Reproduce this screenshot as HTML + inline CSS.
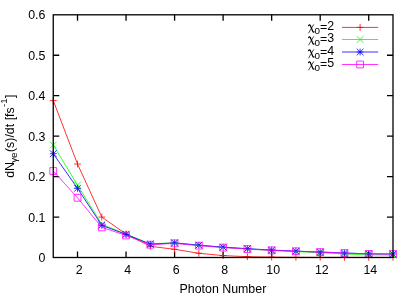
<!DOCTYPE html>
<html><head><meta charset="utf-8"><title>plot</title>
<style>
html,body{margin:0;padding:0;background:#fff;}
body{width:415px;height:297px;overflow:hidden;}
svg{display:block;}
text{font-family:"Liberation Sans",sans-serif;font-size:12.4px;fill:#000;}
</style></head><body>
<svg width="415" height="297" viewBox="0 0 415 297">
<rect x="0" y="0" width="415" height="297" fill="#fff"/>
<g style="will-change:transform">
<path d="M53.25 217.05h6.0M393.00 217.05h-6.0M53.25 176.60h6.0M393.00 176.60h-6.0M53.25 136.15h6.0M393.00 136.15h-6.0M53.25 95.70h6.0M393.00 95.70h-6.0M53.25 55.25h6.0M393.00 55.25h-6.0M77.52 257.50v-6.0M77.52 14.80v6.0M126.05 257.50v-6.0M126.05 14.80v6.0M174.59 257.50v-6.0M174.59 14.80v6.0M223.12 257.50v-6.0M223.12 14.80v6.0M271.66 257.50v-6.0M271.66 14.80v6.0M320.20 257.50v-6.0M320.20 14.80v6.0M368.73 257.50v-6.0M368.73 14.80v6.0" stroke="#000" stroke-width="1.3" fill="none"/>
<text x="45.4" y="262.10" text-anchor="end">0</text>
<text x="45.4" y="221.65" text-anchor="end">0.1</text>
<text x="45.4" y="181.20" text-anchor="end">0.2</text>
<text x="45.4" y="140.75" text-anchor="end">0.3</text>
<text x="45.4" y="100.30" text-anchor="end">0.4</text>
<text x="45.4" y="59.85" text-anchor="end">0.5</text>
<text x="45.4" y="19.40" text-anchor="end">0.6</text>
<text x="79.12" y="274.2" text-anchor="middle">2</text>
<text x="127.65" y="274.2" text-anchor="middle">4</text>
<text x="176.19" y="274.2" text-anchor="middle">6</text>
<text x="224.72" y="274.2" text-anchor="middle">8</text>
<text x="273.26" y="274.2" text-anchor="middle">10</text>
<text x="321.80" y="274.2" text-anchor="middle">12</text>
<text x="370.33" y="274.2" text-anchor="middle">14</text>
<text x="222.9" y="292.7" text-anchor="middle">Photon Number</text>
<text transform="translate(14 177.8) rotate(-90)">dN<tspan font-size="9.9px" dy="3" dx="-0.9">γe</tspan><tspan dy="-3" dx="0.4">(s)/dt [fs</tspan><tspan font-size="9.9px" dy="-6.7" dx="0.3">-1</tspan><tspan dy="6.7" dx="0.3">]</tspan></text>
<path d="M53.25 100.55L77.52 164.06L101.79 217.05L126.05 234.04L150.32 246.30L174.59 249.29L198.86 253.29L223.12 255.60L247.39 256.69L271.66 257.10L295.93 257.30L320.20 257.38L344.46 257.38L368.73 257.38L393.00 257.38" stroke="#ff0000" stroke-width="0.8" fill="none"/>
<path d="M49.85 100.55H56.65M53.25 97.15V103.95M74.12 164.06H80.92M77.52 160.66V167.46M98.39 217.05H105.19M101.79 213.65V220.45M122.65 234.04H129.45M126.05 230.64V237.44M146.92 246.30H153.72M150.32 242.90V249.70M171.19 249.29H177.99M174.59 245.89V252.69M195.46 253.29H202.26M198.86 249.89V256.69M219.72 255.60H226.53M223.12 252.20V259.00M243.99 256.69H250.79M247.39 253.29V260.09M268.26 257.10H275.06M271.66 253.70V260.50M292.53 257.30H299.33M295.93 253.90V260.70M316.80 257.38H323.60M320.20 253.98V260.78M341.06 257.38H347.86M344.46 253.98V260.78M365.33 257.38H372.13M368.73 253.98V260.78M389.60 257.38H396.40M393.00 253.98V260.78" stroke="#ff0000" stroke-width="0.8" fill="none"/>
<path d="M53.25 145.05L77.52 185.09L101.79 224.33L126.05 234.04L150.32 243.91L174.59 242.70L198.86 245.16L223.12 247.19L247.39 248.88L271.66 250.42L295.93 251.63L320.20 252.65L344.46 254.06L368.73 254.87L393.00 255.07" stroke="#00ff00" stroke-width="0.8" fill="none"/>
<path d="M49.85 141.65L56.65 148.45M49.85 148.45L56.65 141.65M74.12 181.69L80.92 188.49M74.12 188.49L80.92 181.69M98.39 220.93L105.19 227.73M98.39 227.73L105.19 220.93M122.65 230.64L129.45 237.44M122.65 237.44L129.45 230.64M146.92 240.51L153.72 247.31M146.92 247.31L153.72 240.51M171.19 239.30L177.99 246.10M171.19 246.10L177.99 239.30M195.46 241.76L202.26 248.56M195.46 248.56L202.26 241.76M219.72 243.79L226.53 250.59M219.72 250.59L226.53 243.79M243.99 245.48L250.79 252.28M243.99 252.28L250.79 245.48M268.26 247.02L275.06 253.82M268.26 253.82L275.06 247.02M292.53 248.23L299.33 255.03M292.53 255.03L299.33 248.23M316.80 249.25L323.60 256.05M316.80 256.05L323.60 249.25M341.06 250.66L347.86 257.46M341.06 257.46L347.86 250.66M365.33 251.47L372.13 258.27M365.33 258.27L372.13 251.47M389.60 251.67L396.40 258.47M389.60 258.47L396.40 251.67" stroke="#00ff00" stroke-width="0.8" fill="none"/>
<path d="M53.25 153.71L77.52 188.33L101.79 225.34L126.05 234.44L150.32 244.23L174.59 242.94L198.86 245.24L223.12 247.19L247.39 248.68L271.66 250.06L295.93 251.11L320.20 252.00L344.46 253.01L368.73 253.82L393.00 254.02" stroke="#0000ff" stroke-width="0.8" fill="none"/>
<path d="M49.85 153.71H56.65M53.25 150.31V157.11M49.85 150.31L56.65 157.11M49.85 157.11L56.65 150.31M74.12 188.33H80.92M77.52 184.93V191.73M74.12 184.93L80.92 191.73M74.12 191.73L80.92 184.93M98.39 225.34H105.19M101.79 221.94V228.74M98.39 221.94L105.19 228.74M98.39 228.74L105.19 221.94M122.65 234.44H129.45M126.05 231.04V237.84M122.65 231.04L129.45 237.84M122.65 237.84L129.45 231.04M146.92 244.23H153.72M150.32 240.83V247.63M146.92 240.83L153.72 247.63M146.92 247.63L153.72 240.83M171.19 242.94H177.99M174.59 239.54V246.34M171.19 239.54L177.99 246.34M171.19 246.34L177.99 239.54M195.46 245.24H202.26M198.86 241.84V248.64M195.46 241.84L202.26 248.64M195.46 248.64L202.26 241.84M219.72 247.19H226.53M223.12 243.79V250.59M219.72 243.79L226.53 250.59M219.72 250.59L226.53 243.79M243.99 248.68H250.79M247.39 245.28V252.08M243.99 245.28L250.79 252.08M243.99 252.08L250.79 245.28M268.26 250.06H275.06M271.66 246.66V253.46M268.26 246.66L275.06 253.46M268.26 253.46L275.06 246.66M292.53 251.11H299.33M295.93 247.71V254.51M292.53 247.71L299.33 254.51M292.53 254.51L299.33 247.71M316.80 252.00H323.60M320.20 248.60V255.40M316.80 248.60L323.60 255.40M316.80 255.40L323.60 248.60M341.06 253.01H347.86M344.46 249.61V256.41M341.06 249.61L347.86 256.41M341.06 256.41L347.86 249.61M365.33 253.82H372.13M368.73 250.42V257.22M365.33 250.42L372.13 257.22M365.33 257.22L372.13 250.42M389.60 254.02H396.40M393.00 250.62V257.42M389.60 250.62L396.40 257.42M389.60 257.42L396.40 250.62" stroke="#0000ff" stroke-width="0.8" fill="none"/>
<path d="M53.25 171.02L77.52 197.80L101.79 227.36L126.05 235.45L150.32 244.72L174.59 243.34L198.86 245.65L223.12 247.59L247.39 249.05L271.66 250.34L295.93 251.27L320.20 252.08L344.46 253.05L368.73 253.86L393.00 254.06" stroke="#ff00ff" stroke-width="0.8" fill="none"/>
<path d="M49.85 167.62H56.65V174.42H49.85ZM74.12 194.40H80.92V201.20H74.12ZM98.39 223.96H105.19V230.76H98.39ZM122.65 232.05H129.45V238.85H122.65ZM146.92 241.32H153.72V248.12H146.92ZM171.19 239.94H177.99V246.74H171.19ZM195.46 242.25H202.26V249.05H195.46ZM219.72 244.19H226.53V250.99H219.72ZM243.99 245.65H250.79V252.45H243.99ZM268.26 246.94H275.06V253.74H268.26ZM292.53 247.87H299.33V254.67H292.53ZM316.80 248.68H323.60V255.48H316.80ZM341.06 249.65H347.86V256.45H341.06ZM365.33 250.46H372.13V257.26H365.33ZM389.60 250.66H396.40V257.46H389.60Z" stroke="#ff00ff" stroke-width="0.8" fill="none"/>
<rect x="53.25" y="14.80" width="339.75" height="242.70" fill="none" stroke="#000" stroke-width="1.3"/>
<g transform="translate(308.3 30) scale(0.95 0.97)" fill="none" stroke="#000" stroke-linecap="round"><path d="M0.3 -4.5C0.7 -5.5 1.5 -5.7 2 -4.8L4.7 1.3C5.1 2.3 5.6 2.4 6.1 1.9" stroke-width="1.3"/><path d="M5.6 -5.5L0.4 3" stroke-width="0.75"/></g><text x="334.1" y="30" text-anchor="end"><tspan font-size="9.9px" dy="4">0</tspan><tspan dy="-3">=</tspan><tspan dy="-1">2</tspan></text>
<path d="M342 27.40H378.2M356.70 27.40H363.50M360.10 24.00V30.80" stroke="#ff0000" stroke-width="0.8" fill="none"/>
<g transform="translate(308.3 42) scale(0.95 0.97)" fill="none" stroke="#000" stroke-linecap="round"><path d="M0.3 -4.5C0.7 -5.5 1.5 -5.7 2 -4.8L4.7 1.3C5.1 2.3 5.6 2.4 6.1 1.9" stroke-width="1.3"/><path d="M5.6 -5.5L0.4 3" stroke-width="0.75"/></g><text x="334.1" y="42" text-anchor="end"><tspan font-size="9.9px" dy="4">0</tspan><tspan dy="-3">=</tspan><tspan dy="-1">3</tspan></text>
<path d="M342 39.50H378.2M356.70 36.10L363.50 42.90M356.70 42.90L363.50 36.10" stroke="#00ff00" stroke-width="0.8" fill="none"/>
<g transform="translate(308.3 55) scale(0.95 0.97)" fill="none" stroke="#000" stroke-linecap="round"><path d="M0.3 -4.5C0.7 -5.5 1.5 -5.7 2 -4.8L4.7 1.3C5.1 2.3 5.6 2.4 6.1 1.9" stroke-width="1.3"/><path d="M5.6 -5.5L0.4 3" stroke-width="0.75"/></g><text x="334.1" y="55" text-anchor="end"><tspan font-size="9.9px" dy="4">0</tspan><tspan dy="-3">=</tspan><tspan dy="-1">4</tspan></text>
<path d="M342 52.00H378.2M356.70 52.00H363.50M360.10 48.60V55.40M356.70 48.60L363.50 55.40M356.70 55.40L363.50 48.60" stroke="#0000ff" stroke-width="0.8" fill="none"/>
<g transform="translate(308.3 67) scale(0.95 0.97)" fill="none" stroke="#000" stroke-linecap="round"><path d="M0.3 -4.5C0.7 -5.5 1.5 -5.7 2 -4.8L4.7 1.3C5.1 2.3 5.6 2.4 6.1 1.9" stroke-width="1.3"/><path d="M5.6 -5.5L0.4 3" stroke-width="0.75"/></g><text x="334.1" y="67" text-anchor="end"><tspan font-size="9.9px" dy="4">0</tspan><tspan dy="-3">=</tspan><tspan dy="-1">5</tspan></text>
<path d="M342 64.50H378.2M356.70 61.10H363.50V67.90H356.70Z" stroke="#ff00ff" stroke-width="0.8" fill="none"/>
</g>
</svg>
</body></html>
